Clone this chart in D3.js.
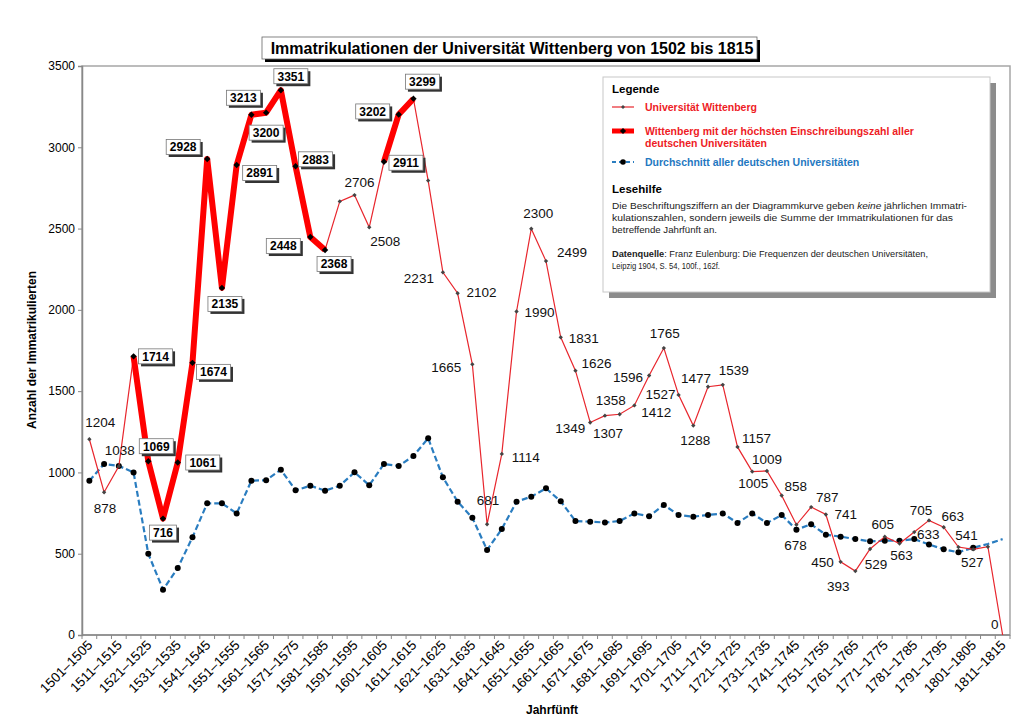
<!DOCTYPE html>
<html>
<head>
<meta charset="utf-8">
<script src="https://cdn.jsdelivr.net/npm/d3@7"></script>
<style>
    body { margin: 0; background: #fff; }
    text { font-family: "Liberation Sans", Arial, sans-serif; }
</style>
</head>
<body>
<svg id="chart" width="1024" height="724"></svg>
<script>
// Immatrikulationen der Universität Wittenberg, je Jahrfünft

const jahrfuenfte = [
    '1501–1505', '1506–1510', '1511–1515', '1516–1520', '1521–1525', '1526–1530', '1531–1535', '1536–1540',
    '1541–1545', '1546–1550', '1551–1555', '1556–1560', '1561–1565', '1566–1570', '1571–1575', '1576–1580',
    '1581–1585', '1586–1590', '1591–1595', '1596–1600', '1601–1605', '1606–1610', '1611–1615', '1616–1620',
    '1621–1625', '1626–1630', '1631–1635', '1636–1640', '1641–1645', '1646–1650', '1651–1655', '1656–1660',
    '1661–1665', '1666–1670', '1671–1675', '1676–1680', '1681–1685', '1686–1690', '1691–1695', '1696–1700',
    '1701–1705', '1706–1710', '1711–1715', '1716–1720', '1721–1725', '1726–1730', '1731–1735', '1736–1740',
    '1741–1745', '1746–1750', '1751–1755', '1756–1760', '1761–1765', '1766–1770', '1771–1775', '1776–1780',
    '1781–1785', '1786–1790', '1791–1795', '1796–1800', '1801–1805', '1806–1810', '1811–1815'
];

// Wittenberg (position of the points)
const wittenberg = [
    1204, 878, 1038, 1714, 1069, 716, 1061, 1674, 2928, 2135, 2891, 3200, 3213, 3351, 2883, 2448,
    2368, 2667, 2706, 2508, 2911, 3202, 3299, 2795, 2231, 2102, 1665, 681, 1114, 1990, 2499, 2300,
    1831, 1626, 1307, 1349, 1358, 1412, 1596, 1765, 1477, 1288, 1527, 1539, 1157, 1005, 1009, 858,
    678, 787, 741, 450, 393, 529, 605, 563, 633, 705, 663, 541, 527, 543, 0
];

// numbers as printed next to the curve ('' = no label)
const beschriftung = [
    '1204', '878', '1038', '1714', '1069', '716', '1061', '1674', '2928', '2135', '2891', '3213', '3200', '3351', '2883', '2448',
    '2368', '', '2706', '2508', '2911', '3202', '3299', '', '2231', '2102', '1665', '681', '1114', '1990', '2300', '2499',
    '1831', '1626', '1349', '1307', '1358', '1412', '1596', '1765', '1527', '1288', '1477', '1539', '1157', '1005', '1009', '858',
    '678', '787', '741', '450', '393', '529', '605', '563', '633', '705', '663', '541', '527', '', '0'
];

// Durchschnitt aller deutschen Universitäten
const durchschnitt = [
    949, 1052, 1040, 1000, 500, 279, 412, 601, 810, 810, 748, 949, 952, 1017, 890, 918,
    888, 918, 1001, 921, 1052, 1040, 1101, 1210, 970, 820, 721, 523, 652, 820, 851, 902,
    822, 701, 697, 692, 701, 748, 730, 800, 738, 728, 738, 748, 689, 748, 689, 738,
    648, 681, 617, 605, 590, 576, 580, 580, 590, 557, 527, 509, 537, 560, 590
];

// Jahrfünfte where Wittenberg had the most enrolments of all German universities
const hoechsteSegmente = [[3, 16], [20, 22]];

const yTicks = [0, 500, 1000, 1500, 2000, 2500, 3000, 3500];

// label nudges relative to the point [dx, dy]
const labelNudge = [
    [11, -17], [1, 16], [1, -16], [22, 0], [8, -15], [0, 14], [25, 0], [21, 9],
    [-24, -12], [3, 16], [23, 8], [-8, -17], [0, 20], [10, -14], [20, -7], [-27, 9],
    [9, 14], [0, 0], [5, -13], [16, 14], [22, 1], [-26, -3], [9, -17], [0, 0],
    [-24, 6], [24, -1], [-26, 3], [1, -24], [24, 3], [23, 1], [7, -16], [26, -9],
    [23, 1], [21, -8], [-20, 6], [3, 17], [-9, -14], [22, 7], [-21, 2], [1, -15],
    [-18, -1], [2, 15], [-12, -9], [11, -15], [19, -9], [1, 12], [0, -12], [14, -9],
    [-1, 20], [16, -10], [20, 0], [-18, 0], [-17, 15], [6, 15], [-2, -13], [2, 12],
    [14, 2], [-8, -10], [9, -11], [8, -12], [-1, 13], [0, 0], [-8, -11]
];

const svg = d3.select('#chart');
const margin = { left: 82, right: 1010, top: 66, bottom: 635 };

const x = d3.scaleBand()
    .domain(jahrfuenfte)
    .range([margin.left, margin.right]);
const cx = i => x(jahrfuenfte[i]) + x.bandwidth() / 2;

const y = d3.scaleLinear()
    .domain([0, 3500])
    .range([margin.bottom, margin.top]);

// plot frame
svg.append('rect')
    .attr('x', margin.left)
    .attr('y', margin.top)
    .attr('width', margin.right - margin.left)
    .attr('height', margin.bottom - margin.top)
    .attr('fill', 'none')
    .attr('stroke', '#a6a6a6')
    .attr('stroke-width', 1.5);

// y axis
const yAxis = svg.append('g')
    .attr('transform', `translate(${margin.left},0)`)
    .call(d3.axisLeft(y).tickValues(yTicks).tickSize(4).tickPadding(3).tickFormat(d => d));
yAxis.select('.domain').attr('stroke', '#888').attr('stroke-width', 1.5);
yAxis.selectAll('.tick line').attr('stroke', '#888');
yAxis.selectAll('.tick text')
    .attr('font-size', 12)
    .attr('fill', '#000')
    .style('font-family', '"Liberation Sans", Arial, sans-serif');

// x axis: ticks on the band boundaries, labels on every second band
const xAxis = svg.append('g');
xAxis.append('line')
    .attr('x1', margin.left).attr('x2', margin.right)
    .attr('y1', margin.bottom).attr('y2', margin.bottom)
    .attr('stroke', '#888').attr('stroke-width', 1.5);
xAxis.selectAll('line.tick')
    .data(d3.range(jahrfuenfte.length + 1))
    .join('line')
    .attr('class', 'tick')
    .attr('x1', i => margin.left + i * x.step())
    .attr('x2', i => margin.left + i * x.step())
    .attr('y1', margin.bottom)
    .attr('y2', margin.bottom + 4)
    .attr('stroke', '#888');
xAxis.selectAll('text')
    .data(jahrfuenfte.filter((d, i) => i % 2 === 0))
    .join('text')
    .attr('transform', d => `translate(${x(d) + x.bandwidth() / 2 + 4},${margin.bottom + 11}) rotate(-45)`)
    .attr('text-anchor', 'end')
    .attr('font-size', 13.5)
    .attr('fill', '#000')
    .text(d => d);

// axis titles
svg.append('text')
    .attr('x', 552).attr('y', 714)
    .attr('text-anchor', 'middle')
    .attr('font-size', 12).attr('font-weight', 'bold')
    .text('Jahrfünft');
svg.append('text')
    .attr('transform', 'translate(36,350) rotate(-90)')
    .attr('text-anchor', 'middle')
    .attr('font-size', 12).attr('font-weight', 'bold')
    .text('Anzahl der Immatrikulierten');

// average line
const blueLine = d3.line()
    .x((d, i) => cx(i))
    .y(d => y(d));
svg.append('path')
    .datum(durchschnitt)
    .attr('d', blueLine)
    .attr('fill', 'none')
    .attr('stroke', '#2a7dc0')
    .attr('stroke-width', 2.2)
    .attr('stroke-dasharray', '6,3');
svg.append('g')
    .selectAll('circle')
    .data(durchschnitt.slice(0, 61))
    .join('circle')
    .attr('cx', (d, i) => cx(i))
    .attr('cy', d => y(d))
    .attr('r', 3)
    .attr('fill', '#000');

// Wittenberg thin line
const redLine = d3.line()
    .x(d => cx(d.i))
    .y(d => y(d.v));
const wPoints = wittenberg.map((v, i) => ({ i, v }));
svg.append('path')
    .datum(wPoints)
    .attr('d', redLine)
    .attr('fill', 'none')
    .attr('stroke', '#e8262d')
    .attr('stroke-width', 1.2);

// thick segments
hoechsteSegmente.forEach(([a, b]) => {
    svg.append('path')
        .datum(wPoints.slice(a, b + 1))
        .attr('d', redLine)
        .attr('fill', 'none')
        .attr('stroke', '#ff0000')
        .attr('stroke-width', 6)
        .attr('stroke-linejoin', 'round');
});

const isThick = i => hoechsteSegmente.some(([a, b]) => i >= a && i <= b);

svg.append('g')
    .selectAll('path')
    .data(wPoints.slice(0, 62))
    .join('path')
    .attr('transform', d => `translate(${cx(d.i)},${y(d.v)})`)
    .attr('d', d => d3.symbol(d3.symbolDiamond2, isThick(d.i) ? 26 : 12)())
    .attr('fill', d => isThick(d.i) ? '#000' : '#444');

// labels
const labels = svg.append('g');
wPoints.forEach(d => {
    const txt = beschriftung[d.i];
    if (!txt) return;
    const [dx, dy] = labelNudge[d.i];
    const px = cx(d.i) + dx;
    const py = y(d.v) + dy;
    if (isThick(d.i)) {
        const w = txt.length * 7 + 6;
        const h = 15;
        labels.append('rect')
            .attr('x', px - w / 2 + 2.5).attr('y', py - h / 2 + 2.5)
            .attr('width', w).attr('height', h)
            .attr('fill', '#333');
        labels.append('rect')
            .attr('x', px - w / 2).attr('y', py - h / 2)
            .attr('width', w).attr('height', h)
            .attr('fill', '#fff')
            .attr('stroke', '#777')
            .attr('stroke-width', 0.8);
        labels.append('text')
            .attr('x', px).attr('y', py)
            .attr('dy', '0.36em')
            .attr('text-anchor', 'middle')
            .attr('font-size', 12).attr('font-weight', 'bold')
            .text(txt);
    } else {
        labels.append('text')
            .attr('x', px).attr('y', py)
            .attr('dy', '0.36em')
            .attr('text-anchor', 'middle')
            .attr('font-size', 13.5)
            .attr('fill', '#111')
            .text(txt);
    }
});

// title box
const title = svg.append('g');
title.append('rect')
    .attr('x', 265).attr('y', 40).attr('width', 495).attr('height', 22)
    .attr('fill', '#000');
title.append('rect')
    .attr('x', 262).attr('y', 37).attr('width', 495).attr('height', 22)
    .attr('fill', '#fff').attr('stroke', '#666').attr('stroke-width', 0.8);
title.append('text')
    .attr('x', 512).attr('y', 48)
    .attr('dy', '0.36em')
    .attr('text-anchor', 'middle')
    .attr('font-size', 16).attr('font-weight', 'bold')
    .text('Immatrikulationen der Universität Wittenberg von 1502 bis 1815');

// legend box
const lg = svg.append('g');
lg.append('rect')
    .attr('x', 609).attr('y', 83).attr('width', 387).attr('height', 215)
    .attr('fill', '#8c8c8c');
lg.append('rect')
    .attr('x', 603).attr('y', 77).attr('width', 387).attr('height', 215)
    .attr('fill', '#fff').attr('stroke', '#c8c8c8');

lg.append('text')
    .attr('x', 612).attr('y', 93)
    .attr('font-size', 11.5).attr('font-weight', 'bold')
    .text('Legende');

const legendItems = [
    { y: 107, color: '#e8262d', width: 1.2, dash: null, marker: 'diamond', size: 10, lines: ['Universität Wittenberg'] },
    { y: 131, color: '#ff0000', width: 5, dash: null, marker: 'diamond', size: 24, lines: ['Wittenberg mit der höchsten Einschreibungszahl aller', 'deutschen Universitäten'] },
    { y: 162, color: '#2a7dc0', width: 2.2, dash: '4,3', marker: 'circle', size: 0, lines: ['Durchschnitt aller deutschen Universitäten'] }
];
legendItems.forEach(it => {
    lg.append('line')
        .attr('x1', 612).attr('x2', 634)
        .attr('y1', it.y).attr('y2', it.y)
        .attr('stroke', it.color)
        .attr('stroke-width', it.width)
        .attr('stroke-dasharray', it.dash);
    if (it.marker === 'circle') {
        lg.append('circle').attr('cx', 623).attr('cy', it.y).attr('r', 2.8).attr('fill', '#000');
    } else {
        lg.append('path')
            .attr('transform', `translate(623,${it.y})`)
            .attr('d', d3.symbol(d3.symbolDiamond2, it.size)())
            .attr('fill', it.size > 20 ? '#000' : '#444');
    }
    it.lines.forEach((l, k) => {
        lg.append('text')
            .attr('x', 645).attr('y', it.y + k * 12)
            .attr('dy', '0.36em')
            .attr('font-size', 10.5).attr('font-weight', 'bold')
            .attr('fill', it.color === '#2a7dc0' ? '#1f78c1' : '#ee1c25')
            .text(l);
    });
});

lg.append('text')
    .attr('x', 612).attr('y', 193)
    .attr('font-size', 11.5).attr('font-weight', 'bold')
    .text('Lesehilfe');

const para = lg.append('g')
    .style('font-family', '"Open Sans", "Noto Sans", sans-serif')
    .attr('font-size', 9.6)
    .attr('fill', '#222');
const l1 = para.append('text').attr('x', 612).attr('y', 209)
    .attr('textLength', 355).attr('lengthAdjust', 'spacingAndGlyphs');
l1.append('tspan').text('Die Beschriftungsziffern an der Diagrammkurve geben ');
l1.append('tspan').attr('font-style', 'italic').text('keine');
l1.append('tspan').text(' jährlichen Immatri-');
para.append('text').attr('x', 612).attr('y', 221)
    .attr('textLength', 341).attr('lengthAdjust', 'spacingAndGlyphs')
    .text('kulationszahlen, sondern jeweils die Summe der Immatrikulationen  für das');
para.append('text').attr('x', 612).attr('y', 233)
    .attr('textLength', 105).attr('lengthAdjust', 'spacingAndGlyphs')
    .text('betreffende Jahrfünft an.');

const src = lg.append('g')
    .style('font-family', '"Open Sans", "Noto Sans", sans-serif')
    .attr('font-size', 9)
    .attr('fill', '#222');
const s1 = src.append('text').attr('x', 612).attr('y', 257)
    .attr('textLength', 316).attr('lengthAdjust', 'spacingAndGlyphs');
s1.append('tspan').attr('font-weight', 'bold').text('Datenquelle');
s1.append('tspan').text(': Franz Eulenburg: Die Frequenzen der deutschen Universitäten,');
src.append('text').attr('x', 612).attr('y', 269)
    .attr('textLength', 108).attr('lengthAdjust', 'spacingAndGlyphs')
    .text('Leipzig 1904, S. 54, 100f., 162f.');
</script>
</body>
</html>
